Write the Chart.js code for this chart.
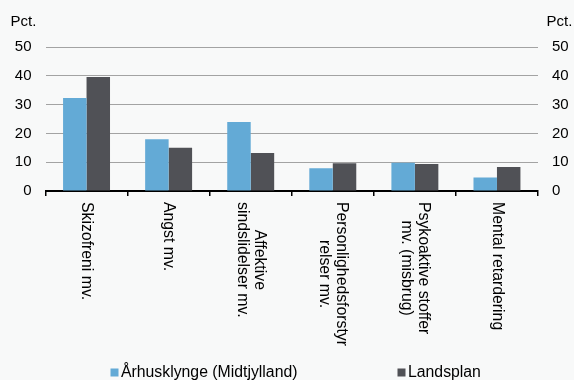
<!DOCTYPE html>
<html>
<head>
<meta charset="utf-8">
<script src="https://cdn.jsdelivr.net/npm/chart.js@4/dist/chart.umd.min.js"></script>
<style>
  html, body { margin: 0; padding: 0; background: #f8f9f9; }
  canvas { display: block; }
</style>
</head>
<body>
<canvas id="lidelserChart" width="574" height="380"></canvas>
<script>
const categories = [
  ["Skizofreni mv."],
  ["Angst mv."],
  ["Affektive", "sindslidelser mv."],
  ["Personlighedsforstyr", "relser mv."],
  ["Psykoaktive stoffer", "mv. (misbrug)"],
  ["Mental retardering"]
];
const seriesNames = ["Århusklynge (Midtjylland)", "Landsplan"];
const aarhus = [32.3, 18.0, 24.0, 7.9, 9.8, 4.7];
const landsplan = [39.6, 15.0, 13.2, 9.6, 9.4, 8.3];
const yTicks = [0, 10, 20, 30, 40, 50];

const FONT = "'Liberation Sans', Arial, Helvetica, sans-serif";
const BLUE = "#63aad6";
const DARK = "#505156";

// background + "Pct." labels
const decor = {
  id: "decor",
  beforeDraw(chart) {
    const ctx = chart.ctx;
    ctx.save();
    ctx.fillStyle = "#f8f9f9";
    ctx.fillRect(0, 0, chart.width, chart.height);
    ctx.restore();
  },
  afterDraw(chart) {
    const ctx = chart.ctx;
    ctx.save();
    ctx.font = "15px " + FONT;
    ctx.fillStyle = "#000";
    ctx.textBaseline = "middle";
    ctx.textAlign = "left";
    ctx.fillText("Pct.", 10.5, 22);
    ctx.fillText("Pct.", 546.5, 22);
    ctx.restore();
  }
};

// category labels turned clockwise, centred on each category
const xLabels = {
  id: "xLabels",
  afterDraw(chart) {
    const ctx = chart.ctx;
    const xs = chart.scales.x;
    const top = chart.chartArea.bottom + 11;
    const lh = 17.5;
    ctx.save();
    ctx.font = "15.8px " + FONT;
    ctx.fillStyle = "#000";
    ctx.textBaseline = "middle";
    ctx.textAlign = "center";
    categories.forEach((lines, i) => {
      const cx = xs.getPixelForValue(i);
      const maxW = Math.max(...lines.map(l => ctx.measureText(l).width));
      ctx.save();
      ctx.translate(cx, top);
      ctx.rotate(Math.PI / 2);
      lines.forEach((line, j) => {
        const ly = (j - (lines.length - 1) / 2) * lh;
        ctx.fillText(line, maxW / 2, ly);
      });
      ctx.restore();
    });
    ctx.restore();
  }
};

// legend at the bottom
const legendRow = {
  id: "legendRow",
  afterDraw(chart) {
    const ctx = chart.ctx;
    const boxX = [110.5, 397.5];
    ctx.save();
    ctx.font = "15.8px " + FONT;
    ctx.textBaseline = "middle";
    ctx.textAlign = "left";
    chart.data.datasets.forEach((ds, i) => {
      ctx.fillStyle = ds.backgroundColor;
      ctx.fillRect(boxX[i], 368.5, 8, 8);
      ctx.fillStyle = "#000";
      ctx.fillText(ds.label, boxX[i] + 10.5, 373);
    });
    ctx.restore();
  }
};

const yAxis = (pos, showGrid, w) => ({
  position: pos,
  min: 0,
  max: 50,
  afterBuildTicks: s => { s.ticks = yTicks.map(v => ({ value: v })); },
  ticks: { font: { size: 15, family: FONT }, color: "#000", padding: 14 },
  grid: { display: showGrid, color: "#a3a3a3", lineWidth: 1, drawTicks: false },
  border: { display: false },
  afterFit: s => { s.width = w; }
});

new Chart(document.getElementById("lidelserChart").getContext("2d"), {
  type: "bar",
  data: {
    labels: categories,
    datasets: [
      { label: seriesNames[0], data: aarhus, backgroundColor: BLUE, yAxisID: "y" },
      { label: seriesNames[1], data: landsplan, backgroundColor: DARK, yAxisID: "y" }
    ]
  },
  options: {
    responsive: false,
    animation: false,
    devicePixelRatio: 1,
    layout: { padding: { top: 47, bottom: 0, left: 0, right: 0 } },
    datasets: { bar: { categoryPercentage: 0.572, barPercentage: 1 } },
    plugins: {
      legend: { display: false },
      tooltip: { enabled: false }
    },
    scales: {
      x: {
        offset: true,
        ticks: { display: false },
        grid: { offset: true, drawOnChartArea: false, drawTicks: true, tickLength: 5, color: "#000", lineWidth: 1.5 },
        border: { color: "#000", width: 2 },
        afterFit: s => { s.height = 189; }
      },
      y: yAxis("left", true, 45.5),
      y2: yAxis("right", false, 36)
    }
  },
  plugins: [decor, xLabels, legendRow]
});
</script>
</body>
</html>
